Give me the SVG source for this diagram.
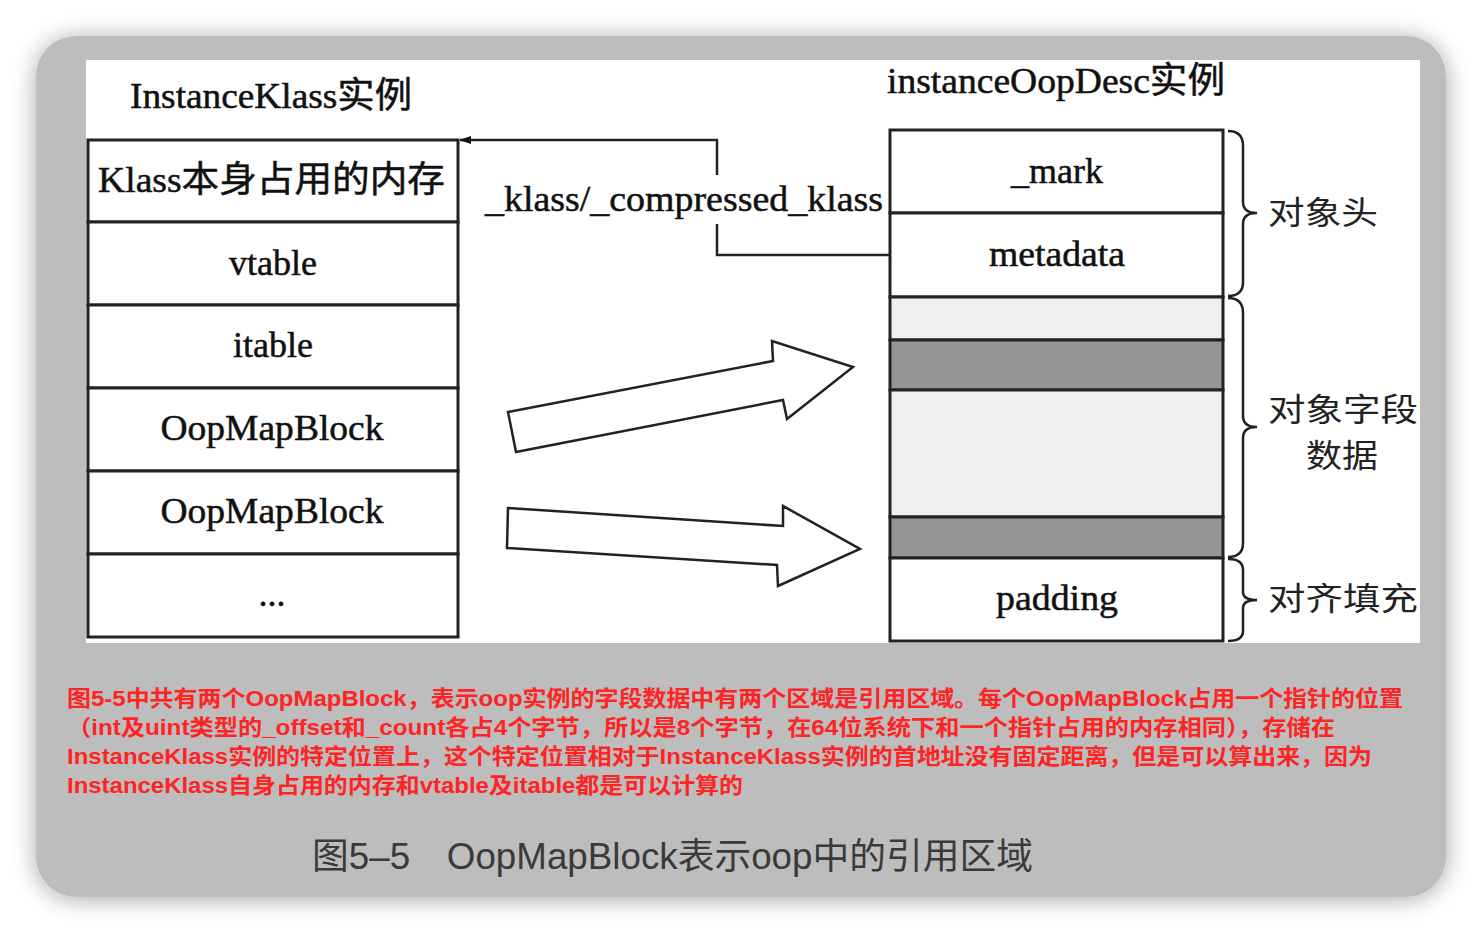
<svg xmlns="http://www.w3.org/2000/svg" width="1482" height="934" viewBox="0 0 1482 934">
<defs>
<filter id="sh" x="-10%" y="-10%" width="120%" height="120%">
<feGaussianBlur in="SourceAlpha" stdDeviation="12"/>
<feOffset dx="0" dy="2"/>
<feComponentTransfer><feFuncA type="linear" slope="0.35"/></feComponentTransfer>
<feMerge><feMergeNode/><feMergeNode in="SourceGraphic"/></feMerge>
</filter>
<marker id="ah" viewBox="0 0 12 10" refX="11" refY="5" markerWidth="12" markerHeight="10" markerUnits="userSpaceOnUse" orient="auto">
<path d="M0,1 L12,5 L0,9 Z" fill="#111"/>
</marker>
<style>
.cell{fill:#fff;stroke:#222;stroke-width:3}
.lg{fill:#efefef;stroke:#222;stroke-width:3}
.dg{fill:#959595;stroke:#222;stroke-width:3}
.t{font-family:"Liberation Serif","Noto Sans CJK SC",serif;font-size:36px;fill:#111;stroke:#111;stroke-width:0.5;text-anchor:middle}
.tl{font-family:"Liberation Serif","Noto Sans CJK SC",serif;font-size:36px;fill:#111;stroke:#111;stroke-width:0.5}
.cj{font-family:"Noto Sans CJK SC",sans-serif;font-size:32px;fill:#222}
.red{font-family:"Liberation Sans","Noto Sans CJK SC",sans-serif;font-size:22px;font-weight:bold;fill:#ff2424}
.cap{font-family:"Liberation Sans","Noto Sans CJK SC",sans-serif;font-size:36px;fill:#3a3a3a}
.ln{fill:none;stroke:#222;stroke-width:2.5}
.br{fill:none;stroke:#222;stroke-width:2.5}
.blk{fill:#fff;stroke:#222;stroke-width:2.5;stroke-linejoin:miter}
</style>
</defs>
<rect width="1482" height="934" fill="#fff"/>
<rect x="36" y="36" width="1410" height="861" rx="40" ry="40" fill="#bdbdbd" filter="url(#sh)"/>
<rect x="86" y="60" width="1334" height="583" fill="#fff"/>

<text class="tl" x="130" y="108" textLength="282" lengthAdjust="spacingAndGlyphs">InstanceKlass实例</text>
<text class="tl" x="887" y="93" textLength="338" lengthAdjust="spacingAndGlyphs">instanceOopDesc实例</text>

<g id="klass-mem"><rect class="cell" x="88" y="140" width="370" height="82"/><text class="tl" x="98" y="192" textLength="347" lengthAdjust="spacingAndGlyphs">Klass本身占用的内存</text></g>
<g id="vtable"><rect class="cell" x="88" y="222" width="370" height="83"/><text class="t" x="273" y="275">vtable</text></g>
<g id="itable"><rect class="cell" x="88" y="305" width="370" height="83"/><text class="t" x="273" y="357">itable</text></g>
<g id="oopmap1"><rect class="cell" x="88" y="388" width="370" height="83"/><text class="t" x="272" y="440" textLength="223" lengthAdjust="spacingAndGlyphs">OopMapBlock</text></g>
<g id="oopmap2"><rect class="cell" x="88" y="471" width="370" height="83"/><text class="t" x="272" y="523" textLength="223" lengthAdjust="spacingAndGlyphs">OopMapBlock</text></g>
<g id="more"><rect class="cell" x="88" y="554" width="370" height="83"/><text class="t" x="272" y="606">...</text></g>

<g id="mark"><rect class="cell" x="890" y="130" width="333" height="83"/><text class="t" x="1057" y="183">_mark</text></g>
<g id="metadata"><rect class="cell" x="890" y="213" width="333" height="84"/><text class="t" x="1057" y="266" textLength="136" lengthAdjust="spacingAndGlyphs">metadata</text></g>
<g id="fields">
<rect class="lg" x="890" y="297" width="333" height="43"/>
<rect class="dg" x="890" y="340" width="333" height="50"/>
<rect class="lg" x="890" y="390" width="333" height="127"/>
<rect class="dg" x="890" y="517" width="333" height="41"/>
</g>
<g id="padding"><rect class="cell" x="890" y="558" width="333" height="83"/><text class="t" x="1057" y="610" textLength="122" lengthAdjust="spacingAndGlyphs">padding</text></g>

<g id="braces">
<path class="br" d="M1228,131 Q1243,131 1243,146 L1243,202 Q1243,213 1257,213 Q1243,213 1243,224 L1243,282 Q1243,296 1228,296"/>
<path class="br" d="M1228,298 Q1243,298 1243,313 L1243,416 Q1243,427 1257,427 Q1243,427 1243,438 L1243,543 Q1243,557 1228,557"/>
<path class="br" d="M1228,559 Q1243,559 1243,570 L1243,592 Q1243,600 1257,600 Q1243,600 1243,608 L1243,631 Q1243,641 1228,641"/>
<text class="cj" x="1268" y="224" textLength="110" lengthAdjust="spacingAndGlyphs">对象头</text>
<text class="cj" x="1268" y="421" textLength="150" lengthAdjust="spacingAndGlyphs">对象字段</text>
<text class="cj" x="1306" y="467" textLength="72" lengthAdjust="spacingAndGlyphs">数据</text>
<text class="cj" x="1268" y="610" textLength="150" lengthAdjust="spacingAndGlyphs">对齐填充</text>
</g>

<g id="connectors">
<polyline class="ln" points="890,255 717,255 717,224"/>
<polyline class="ln" points="717,175 717,140 460,140" marker-end="url(#ah)"/>
<text class="tl" x="485" y="211" textLength="398" lengthAdjust="spacingAndGlyphs">_klass/_compressed_klass</text>
<polygon class="blk" points="508,412 773,361 772,341 853,367 787,419 783,400 516,452"/>
<polygon class="blk" points="508,508 783,526 783,506 860,549 778,586 777,565 507,548"/>
</g>

<g id="notes">
<text class="red" x="67" y="706" textLength="1336" lengthAdjust="spacingAndGlyphs">图5-5中共有两个OopMapBlock，表示oop实例的字段数据中有两个区域是引用区域。每个OopMapBlock占用一个指针的位置</text>
<text class="red" x="67" y="735" textLength="1268" lengthAdjust="spacingAndGlyphs">（int及uint类型的_offset和_count各占4个字节，所以是8个字节，在64位系统下和一个指针占用的内存相同），存储在</text>
<text class="red" x="67" y="764" textLength="1305" lengthAdjust="spacingAndGlyphs">InstanceKlass实例的特定位置上，这个特定位置相对于InstanceKlass实例的首地址没有固定距离，但是可以算出来，因为</text>
<text class="red" x="67" y="793" textLength="676" lengthAdjust="spacingAndGlyphs">InstanceKlass自身占用的内存和vtable及itable都是可以计算的</text>
<text class="cap" x="312" y="869" textLength="721" lengthAdjust="spacingAndGlyphs">图5–5　OopMapBlock表示oop中的引用区域</text>
</g>
</svg>
